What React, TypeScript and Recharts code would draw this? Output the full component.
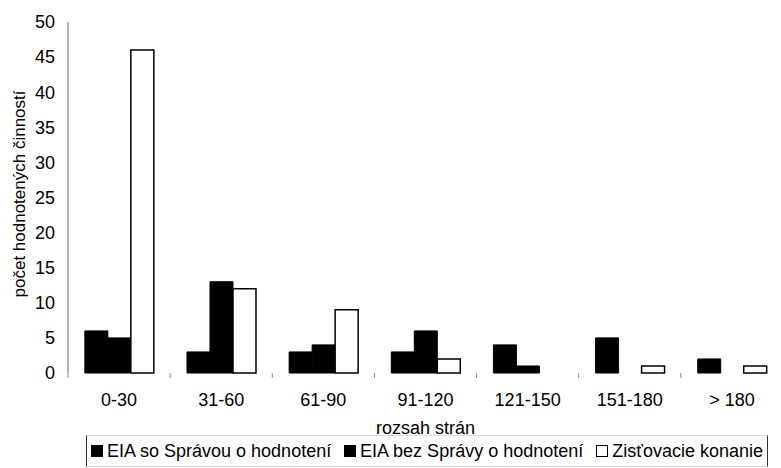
import { Bar, BarChart, Legend, XAxis, YAxis } from "recharts";

const categories = ["0-30", "31-60", "61-90", "91-120", "121-150", "151-180", "> 180"];
const eiaSoSpravou = [6, 3, 3, 3, 4, 5, 2];
const eiaBezSpravy = [5, 13, 4, 6, 1, 0, 0];
const zistovacie = [46, 12, 9, 2, 0, 1, 1];
const yTicks = [0, 5, 10, 15, 20, 25, 30, 35, 40, 45, 50];

const seriesNames = ["EIA so Správou o hodnotení", "EIA bez Správy o hodnotení", "Zisťovacie konanie"];

const data = categories.map((c, i) => ({
	name: c,
	a: eiaSoSpravou[i],
	b: eiaBezSpravy[i],
	c: zistovacie[i],
}));

const FONT = "'Liberation Sans', Arial, sans-serif";
const W = 781;
const H = 468;
const PLOT_LEFT = 68;
const PLOT_RIGHT = 783;
const BAND = (PLOT_RIGHT - PLOT_LEFT) / categories.length;

function CategoryTick(props: any) {
	const { x, y, payload } = props;
	return (
		<g>
			<line x1={x - BAND / 2} x2={x - BAND / 2} y1={y - 8} y2={y - 3} stroke="#888" strokeWidth={1} />
			<text x={x} y={y + 25} textAnchor="middle" fontSize={18} fontFamily={FONT} fill="#000">
				{payload.value}
			</text>
		</g>
	);
}

function YLabel() {
	return (
		<text
			x={19}
			y={194}
			transform="rotate(-90, 19, 194)"
			textAnchor="middle"
			dominantBaseline="central"
			fontSize={17}
			fontFamily={FONT}
			fill="#000"
		>
			počet hodnotených činností
		</text>
	);
}

function LegendBox() {
	const swatch = (filled: boolean) => (
		<span
			style={{
				display: "inline-block",
				width: 12,
				height: 12,
				background: filled ? "#000" : "#fff",
				border: "1.5px solid #000",
				boxSizing: "border-box",
				marginRight: 4,
			}}
		/>
	);
	const item = { display: "flex", alignItems: "center" } as const;
	return (
		<div
			style={{
				borderLeft: "1.5px solid #333",
				borderRight: "1.5px solid #333",
				borderTop: "1px solid #ddd",
				borderBottom: "1px solid #ddd",
				height: 32,
				display: "flex",
				alignItems: "center",
				justifyContent: "space-between",
				padding: "0 4px",
				fontFamily: FONT,
				fontSize: 18,
				color: "#000",
				boxSizing: "border-box",
				whiteSpace: "nowrap",
			}}
		>
			<span style={item}>
				{swatch(true)}
				{seriesNames[0]}
			</span>
			<span style={item}>
				{swatch(true)}
				{seriesNames[1]}
			</span>
			<span style={item}>
				{swatch(false)}
				{seriesNames[2]}
			</span>
		</div>
	);
}

export default function App() {
	return (
		<div style={{ position: "absolute", left: 0, top: 0, width: W, height: H, background: "#fff", overflow: "hidden" }}>
			<BarChart
				width={W}
				height={H}
				data={data}
				margin={{ top: 22, right: W - PLOT_RIGHT, left: 0, bottom: 1 }}
				barCategoryGap="16.5%"
				barGap={0}
			>
				<XAxis
					dataKey="name"
					axisLine={false}
					tickLine={false}
					height={62}
					tick={<CategoryTick />}
					interval={0}
					label={{
						value: "rozsah strán",
						position: "insideBottom",
						offset: 1,
						fontSize: 18,
						fontFamily: FONT,
						fill: "#000",
					}}
				/>
				<YAxis
					width={PLOT_LEFT}
					domain={[0, 50]}
					ticks={yTicks}
					interval={0}
					axisLine={{ stroke: "#999", strokeWidth: 1.5 }}
					tickLine={false}
					tick={{ fontSize: 18, fontFamily: FONT, fill: "#000" }}
					tickMargin={7}
					label={<YLabel />}
				/>
				<Legend
					verticalAlign="bottom"
					wrapperStyle={{ left: 86, width: 682 }}
					content={<LegendBox />}
				/>
				<Bar dataKey="a" name={seriesNames[0]} fill="#000" stroke="#000" isAnimationActive={false} />
				<Bar dataKey="b" name={seriesNames[1]} fill="#000" stroke="#000" isAnimationActive={false} />
				<Bar dataKey="c" name={seriesNames[2]} fill="#fff" stroke="#000" strokeWidth={1.5} isAnimationActive={false} />
			</BarChart>
		</div>
	);
}
